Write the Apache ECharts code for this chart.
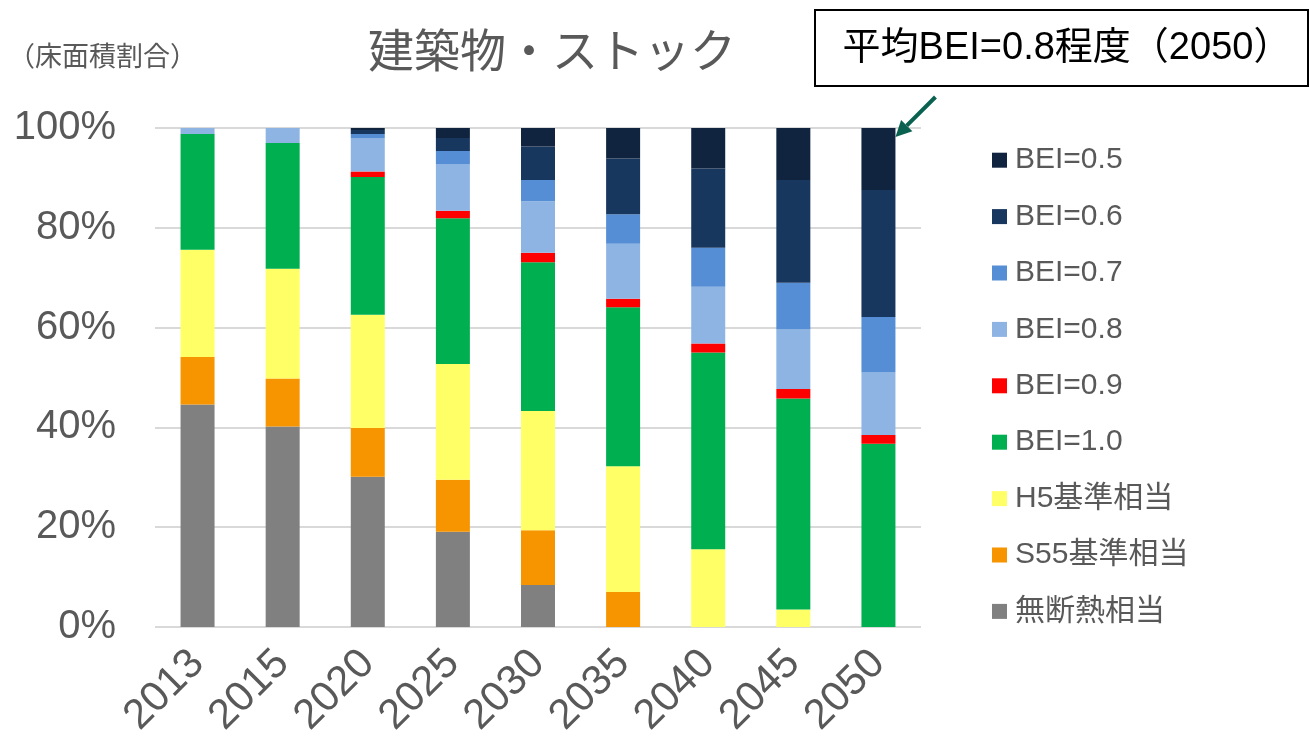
<!DOCTYPE html>
<html>
<head>
<meta charset="utf-8">
<script src="https://cdn.jsdelivr.net/npm/echarts@6/dist/echarts.min.js"></script>
<style>
  html, body { margin: 0; padding: 0; background: #ffffff; }
  #chart { width: 1310px; height: 744px; }
</style>
</head>
<body>
<div id="chart"></div>
<script>
// Floor-area share of the building stock by energy performance level (%)
const years = ['2013', '2015', '2020', '2025', '2030', '2035', '2040', '2045', '2050'];

const noInsulation = [44.6, 40.2, 30.1, 19.1, 8.4, 0, 0, 0, 0];      // 無断熱相当
const s55Standard  = [9.5, 9.6, 9.8, 10.4, 11.0, 7.0, 0, 0, 0];      // S55基準相当
const h5Standard   = [21.5, 22.0, 22.7, 23.2, 23.9, 25.2, 15.6, 3.5, 0]; // H5基準相当
const bei10        = [23.2, 25.2, 27.6, 29.2, 29.8, 31.9, 39.4, 42.3, 36.7];
const bei09        = [0, 0, 1.1, 1.5, 1.9, 1.7, 1.8, 1.9, 1.8];
const bei08        = [1.2, 3.0, 6.7, 9.3, 10.3, 11.0, 11.4, 11.9, 12.5];
const bei07        = [0, 0, 0.8, 2.7, 4.3, 5.9, 7.8, 9.4, 11.1];
const bei06        = [0, 0, 0.8, 2.6, 6.7, 11.2, 15.9, 20.6, 25.5];
const bei05        = [0, 0, 0.4, 2.0, 3.7, 6.1, 8.1, 10.4, 12.4];

const yTicks = [0, 20, 40, 60, 80, 100];

const FONT = "'Liberation Sans', 'Noto Sans CJK JP', sans-serif";
const GREY_TEXT = '#595959';

const layers = [
  { name: '無断熱相当', data: noInsulation, color: '#808080' },
  { name: 'S55基準相当', data: s55Standard, color: '#f79500' },
  { name: 'H5基準相当', data: h5Standard, color: '#ffff66' },
  { name: 'BEI=1.0', data: bei10, color: '#00b050' },
  { name: 'BEI=0.9', data: bei09, color: '#ff0000' },
  { name: 'BEI=0.8', data: bei08, color: '#8eb4e3' },
  { name: 'BEI=0.7', data: bei07, color: '#558ed5' },
  { name: 'BEI=0.6', data: bei06, color: '#18375f' },
  { name: 'BEI=0.5', data: bei05, color: '#10233f' }
];

const chart = echarts.init(document.getElementById('chart'), null, { renderer: 'canvas' });

const option = {
  animation: false,
  backgroundColor: '#ffffff',
  textStyle: { fontFamily: FONT },
  grid: { left: 155, right: 389, top: 128, bottom: 117, containLabel: false },
  legend: {
    orient: 'vertical',
    left: 992,
    top: 145,
    padding: 0,
    itemWidth: 15,
    itemHeight: 15,
    itemGap: 26,
    icon: 'rect',
    selectedMode: false,
    data: layers.map(l => l.name).reverse(),
    textStyle: {
      fontFamily: FONT,
      fontSize: 30,
      lineHeight: 30.4,
      color: GREY_TEXT,
      padding: [0, 0, 0, 3]
    }
  },
  xAxis: {
    type: 'category',
    data: years,
    boundaryGap: true,
    axisLine: { show: false },
    axisTick: { show: false },
    axisLabel: {
      rotate: 45,
      margin: 30,
      fontSize: 42,
      color: GREY_TEXT,
      fontFamily: FONT
    }
  },
  yAxis: {
    type: 'value',
    min: yTicks[0],
    max: yTicks[yTicks.length - 1],
    interval: yTicks[1] - yTicks[0],
    axisLine: { show: false },
    axisTick: { show: false },
    splitLine: { show: true, lineStyle: { color: '#d9d9d9', width: 2 } },
    axisLabel: {
      formatter: '{value}%',
      margin: 39,
      fontSize: 40,
      color: GREY_TEXT,
      fontFamily: FONT
    }
  },
  series: layers.map(l => ({
    name: l.name,
    type: 'bar',
    stack: 'share',
    barWidth: 34,
    data: l.data,
    itemStyle: { color: l.color },
    emphasis: { disabled: true }
  }))
};

chart.setOption(option);

// Callout box and the arrow pointing at the top of the 2050 bar
const top2050 = chart.convertToPixel({ xAxisIndex: 0, yAxisIndex: 0 }, [years[years.length - 1], yTicks[yTicks.length - 1]]);
const tipX = top2050[0] + 17;
const tipY = top2050[1] + 9;
const tailX = tipX + 40;
const tailY = tipY - 40;
const ang = Math.atan2(tipY - tailY, tipX - tailX);
const headLen = 16, headHalf = 8;
const baseX = tipX - headLen * Math.cos(ang);
const baseY = tipY - headLen * Math.sin(ang);
const px = -Math.sin(ang), py = Math.cos(ang);

chart.setOption({
  graphic: [
    {
      type: 'text',
      left: 8,
      top: 42,
      style: { text: '（床面積割合）', font: "27px 'Noto Sans CJK JP', sans-serif", fill: GREY_TEXT }
    },
    {
      type: 'text',
      x: 552,
      y: 50,
      style: {
        text: '建築物・ストック',
        font: "46px 'Noto Sans CJK JP', sans-serif",
        fill: GREY_TEXT,
        align: 'center',
        verticalAlign: 'middle'
      }
    },
    {
      type: 'rect',
      shape: { x: 815, y: 10, width: 493, height: 76 },
      style: { fill: '#ffffff', stroke: '#000000', lineWidth: 2 }
    },
    {
      type: 'text',
      x: 1067,
      y: 49,
      style: {
        text: '平均BEI=0.8程度（2050）',
        font: "38px 'Liberation Sans', 'Noto Sans CJK JP', sans-serif",
        fill: '#000000',
        align: 'center',
        verticalAlign: 'middle'
      }
    },
    {
      type: 'line',
      shape: { x1: tailX, y1: tailY, x2: baseX, y2: baseY },
      style: { stroke: '#0b6150', lineWidth: 4 }
    },
    {
      type: 'polygon',
      shape: {
        points: [
          [tipX, tipY],
          [baseX + px * headHalf, baseY + py * headHalf],
          [baseX - px * headHalf, baseY - py * headHalf]
        ]
      },
      style: { fill: '#0b6150' }
    }
  ]
});
</script>
</body>
</html>
